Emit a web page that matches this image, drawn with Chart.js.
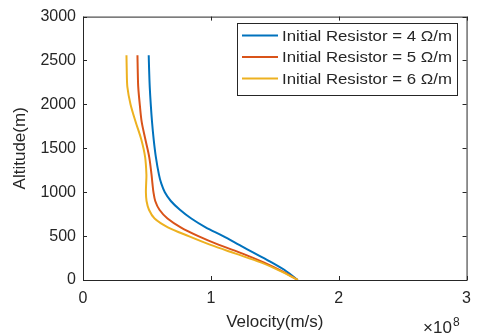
<!DOCTYPE html>
<html>
<head>
<meta charset="utf-8">
<script src="https://cdn.jsdelivr.net/npm/chart.js@4"></script>
<style>
  html, body { margin: 0; padding: 0; background: #fff; }
  #wrap { width: 480px; height: 333px; }
</style>
</head>
<body>
<div id="wrap"><canvas id="chart" width="480" height="333"></canvas></div>
<script>
// Altitude (m) where the velocity was read
const altitude = [0, 100, 200, 300, 400, 500, 600, 700, 800, 900, 1000, 1100, 1200, 1400, 1600, 1800, 2000, 2200, 2400, 2560];

// Velocity (m/s) for each initial resistor value
const velR4 = [1.68e8, 1.59e8, 1.475e8, 1.348e8, 1.222e8, 1.096e8, 0.959e8, 0.847e8, 0.758e8, 0.687e8, 0.640e8, 0.612e8, 0.594e8, 0.570e8, 0.553e8, 0.540e8, 0.530e8, 0.522e8, 0.517e8, 0.514e8];
const velR5 = [1.68e8, 1.556e8, 1.413e8, 1.248e8, 1.064e8, 0.902e8, 0.764e8, 0.661e8, 0.598e8, 0.565e8, 0.551e8, 0.543e8, 0.536e8, 0.518e8, 0.488e8, 0.459e8, 0.444e8, 0.432e8, 0.428e8, 0.426e8];
const velR6 = [1.68e8, 1.545e8, 1.39e8, 1.194e8, 0.998e8, 0.826e8, 0.664e8, 0.56e8, 0.516e8, 0.497e8, 0.492e8, 0.494e8, 0.496e8, 0.486e8, 0.456e8, 0.412e8, 0.372e8, 0.347e8, 0.342e8, 0.340e8];

const seriesLabels = ['Initial Resistor = 4 \u03A9/m', 'Initial Resistor = 5 \u03A9/m', 'Initial Resistor = 6 \u03A9/m'];
const seriesColors = ['#0072BD', '#D95319', '#EDB120'];

const xTicks = [0, 1e8, 2e8, 3e8];

const FONT = "'Liberation Sans', Arial, sans-serif";
const INK = '#262626';

function points(vel) {
    return vel.map((v, i) => ({ x: v, y: altitude[i] }));
}

// Boîte autour du graphique, graduations vers l'intérieur, légende encadrée et exposant
const matlabFrame = {
    id: 'matlabFrame',
    afterDraw(chart) {
        const { ctx, chartArea: a, scales } = chart;
        const x = scales.x, y = scales.y;
        ctx.save();
        ctx.strokeStyle = INK;
        ctx.lineWidth = 1;
        ctx.strokeRect(a.left + 0.5, a.top + 0.5, a.right - a.left, a.bottom - a.top);

        ctx.beginPath();
        x.ticks.forEach(t => {
            const px = Math.round(x.getPixelForValue(t.value)) + 0.5;
            ctx.moveTo(px, a.bottom); ctx.lineTo(px, a.bottom - 4);
            ctx.moveTo(px, a.top); ctx.lineTo(px, a.top + 4);
        });
        y.ticks.forEach(t => {
            const py = Math.round(y.getPixelForValue(t.value)) + 0.5;
            ctx.moveTo(a.left, py); ctx.lineTo(a.left + 4, py);
            ctx.moveTo(a.right, py); ctx.lineTo(a.right - 4, py);
        });
        ctx.stroke();

        // légende
        const lx = 237, ly = 23, lw = 220, lh = 72;
        ctx.fillStyle = '#fff';
        ctx.fillRect(lx, ly, lw, lh);
        ctx.strokeStyle = INK;
        ctx.strokeRect(lx + 0.5, ly + 0.5, lw, lh);
        ctx.font = '15px ' + FONT;
        ctx.textBaseline = 'middle';
        ctx.textAlign = 'left';
        chart.data.datasets.forEach((ds, i) => {
            const rowY = ly + 12.5 + i * 21.5;
            ctx.strokeStyle = ds.borderColor;
            ctx.lineWidth = 2;
            ctx.beginPath();
            ctx.moveTo(lx + 5, rowY); ctx.lineTo(lx + 41, rowY);
            ctx.stroke();
            ctx.fillStyle = INK;
            ctx.save();
            ctx.translate(lx + 45, rowY + 1);
            ctx.scale(1.12, 1);
            ctx.fillText(ds.label, 0, 0);
            ctx.restore();
        });

        // exposant de l'axe x
        ctx.fillStyle = INK;
        ctx.textBaseline = 'alphabetic';
        ctx.font = '17px ' + FONT;
        ctx.fillText('\u00D710', 423, 333);
        ctx.font = '12px ' + FONT;
        ctx.fillText('8', 453, 326);
        ctx.restore();
    }
};

const ctx = document.getElementById('chart').getContext('2d');
new Chart(ctx, {
    type: 'line',
    data: {
        datasets: [
            { label: seriesLabels[0], data: points(velR4), borderColor: seriesColors[0], order: 2 },
            { label: seriesLabels[1], data: points(velR5), borderColor: seriesColors[1], order: 1 },
            { label: seriesLabels[2], data: points(velR6), borderColor: seriesColors[2], order: 0 }
        ]
    },
    options: {
        responsive: false,
        animation: false,
        parsing: false,
        layout: { padding: { top: 15, right: 12, left: 0, bottom: 0 } },
        elements: {
            line: { borderWidth: 2, tension: 0.3, fill: false },
            point: { radius: 0 }
        },
        plugins: {
            legend: { display: false },
            tooltip: { enabled: false }
        },
        scales: {
            x: {
                type: 'linear',
                min: 0,
                max: 3e8,
                afterBuildTicks: s => { s.ticks = xTicks.map(v => ({ value: v })); },
                afterFit: s => { s.height = 53; },
                grid: { display: false, drawTicks: false },
                border: { display: false },
                ticks: {
                    color: INK,
                    font: { family: FONT, size: 16 },
                    padding: 9,
                    maxRotation: 0,
                    callback: v => String(v / 1e8)
                },
                title: {
                    display: true,
                    text: 'Velocity(m/s)',
                    color: INK,
                    font: { family: FONT, size: 17 },
                    padding: { top: 3, bottom: 0 }
                }
            },
            y: {
                type: 'linear',
                min: 0,
                max: 3000,
                afterFit: s => { s.width = 83; },
                grid: { display: false, drawTicks: false },
                border: { display: false },
                ticks: {
                    color: INK,
                    font: { family: FONT, size: 16 },
                    padding: 7,
                    stepSize: 500,
                    callback: v => String(v)
                },
                title: {
                    display: true,
                    text: 'Altitude(m)',
                    color: INK,
                    font: { family: FONT, size: 17 },
                    padding: { top: 10, bottom: 0 }
                }
            }
        }
    },
    plugins: [matlabFrame]
});
</script>
</body>
</html>
